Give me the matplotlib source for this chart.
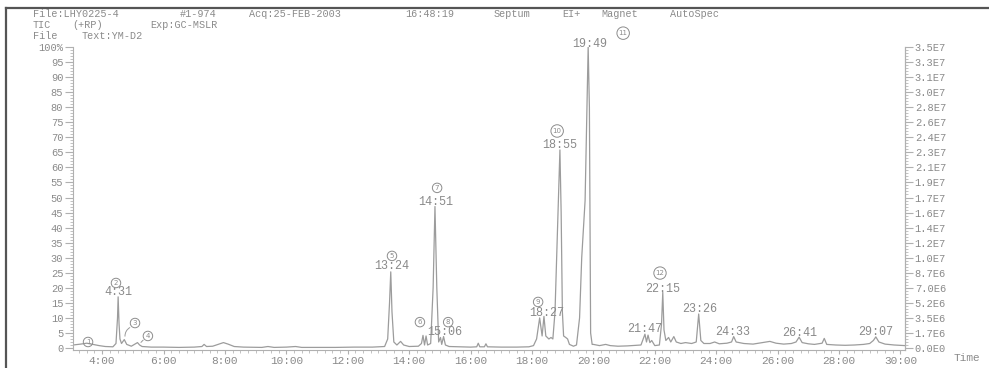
import re
import matplotlib
matplotlib.use('Agg')
import matplotlib.pyplot as plt
from matplotlib.lines import Line2D
from matplotlib.ticker import MultipleLocator, FixedLocator

# TIC trace, time in minutes, intensity in % of base peak
time = [3.05, 3.3, 3.5, 3.7, 3.9, 4.1, 4.35, 4.45, 4.50, 4.52, 4.55, 4.58, 4.63,
        4.72, 4.80, 4.95, 5.15, 5.22, 5.30, 5.6, 6.0, 6.5, 7.0, 7.25, 7.32, 7.40,
        7.6, 7.8, 7.95, 8.1, 8.3, 8.6, 9.2, 9.4, 9.6, 10.0, 10.3, 10.5, 11.0, 11.6,
        12.2, 12.8, 13.2, 13.3, 13.36, 13.40, 13.44, 13.5, 13.6, 13.72, 13.82, 14.0,
        14.3, 14.4, 14.45, 14.5, 14.55, 14.6, 14.7, 14.78, 14.84, 14.90, 14.96,
        15.02, 15.06, 15.12, 15.18, 15.3, 15.6, 16.0, 16.2, 16.25, 16.3, 16.45,
        16.5, 16.55, 17.0, 17.5, 17.9, 18.05, 18.15, 18.25, 18.33, 18.39, 18.45,
        18.55, 18.62, 18.68, 18.75, 18.85, 18.91, 18.95, 18.99, 19.03, 19.10,
        19.16, 19.22, 19.35, 19.45, 19.55, 19.62, 19.73, 19.80, 19.83, 19.87,
        19.89, 19.91, 19.96, 20.0, 20.2, 20.4, 20.55, 20.8, 21.1, 21.4, 21.55,
        21.68, 21.73, 21.78, 21.84, 21.9, 22.0, 22.15, 22.22, 22.26, 22.30, 22.36,
        22.45, 22.52, 22.62, 22.7, 22.85, 23.0, 23.2, 23.35, 23.43, 23.50, 23.6,
        23.8, 23.95, 24.1, 24.35, 24.5, 24.57, 24.65, 24.9, 25.2, 25.5, 25.75,
        25.95, 26.2, 26.45, 26.6, 26.7, 26.8, 27.0, 27.2, 27.45, 27.52, 27.6,
        27.9, 28.2, 28.5, 28.8, 29.0, 29.12, 29.2, 29.3, 29.5, 29.8, 30.15]
intensity = [1.0, 1.3, 1.6, 1.2, 0.8, 0.5, 0.4, 1.5, 10, 17.0, 8, 3.0, 1.5,
             2.8, 1.2, 0.6, 1.8, 1.0, 0.5, 0.3, 0.3, 0.2, 0.3, 0.5, 1.2, 0.5,
             0.6, 1.3, 1.8, 1.3, 0.5, 0.3, 0.2, 0.5, 0.2, 0.3, 0.5, 0.2, 0.2, 0.2,
             0.3, 0.3, 0.5, 3, 15, 25.3, 12, 2, 1.0, 2.2, 1.0, 0.5,
             0.6, 1.5, 4.2, 1.0, 4.0, 1.0, 1.5, 20, 47, 20, 2,
             3.5, 1.2, 3.8, 1.0, 0.5, 0.4, 0.3, 0.4, 1.6, 0.4, 0.4,
             1.4, 0.4, 0.3, 0.3, 0.4, 0.8, 3, 10, 4, 10.5, 4,
             3.0, 3.5, 3.0, 12, 45, 65.8, 45, 12, 4, 3.5,
             3.0, 1.2, 0.6, 1.0, 10, 30, 49, 85, 100, 80,
             40, 5, 1.2, 1.2, 0.8, 1.2, 0.8, 0.6, 0.7, 0.9, 1.0,
             4.6, 2.0, 4.3, 1.8, 2.5, 0.8, 1.0, 8, 18.5, 6, 2.5,
             3.5, 2.0, 3.8, 2.0, 1.5, 1.8, 1.5, 2.0, 11.3, 2.5, 1.5,
             1.5, 2.0, 1.4, 1.6, 2.0, 3.8, 2.0, 1.5, 1.3, 1.8, 2.2,
             1.6, 1.3, 1.5, 2.0, 3.6, 1.8, 1.4, 1.2, 1.6, 3.2, 1.2,
             1.0, 0.9, 1.0, 1.2, 1.5, 2.5, 3.7, 2.0, 1.3, 1.0, 0.8]

# retention time labels printed over peaks (text, time, % height of label)
peak_labels = ['4:31', '13:24', '14:51', '15:06', '18:27', '18:55', '19:49',
               '21:47', '22:15', '23:26', '24:33', '26:41', '29:07']
peak_label_t = [4.52, 13.44, 14.87, 15.17, 18.49, 18.91, 19.89,
                21.68, 22.27, 23.47, 24.55, 26.73, 29.21]
peak_label_y = [18.6, 27.2, 48.5, 5.3, 11.6, 67.4, 101.0,
                6.3, 19.6, 13.0, 5.3, 5.0, 5.3]

# hand written circled peak numbers
marks = ['1', '2', '3', '4', '5', '6', '7', '8', '9', '10', '11', '12']
mark_t = [3.54, 4.45, 5.07, 5.49, 13.44, 14.35, 14.91, 15.27, 18.2, 18.82, 20.97, 22.17]
mark_y = [2.0, 21.6, 8.3, 4.0, 30.6, 8.6, 53.2, 8.6, 15.3, 72.1, 104.6, 24.9]

x_ticks = [4, 6, 8, 10, 12, 14, 16, 18, 20, 22, 24, 26, 28, 30]
x_tick_labels = ['4:00', '6:00', '8:00', '10:00', '12:00', '14:00', '16:00',
                 '18:00', '20:00', '22:00', '24:00', '26:00', '28:00', '30:00']
pct_ticks = list(range(0, 101, 5))
pct_labels = ['0', '5', '10', '15', '20', '25', '30', '35', '40', '45', '50',
              '55', '60', '65', '70', '75', '80', '85', '90', '95', '100%']
full_scale = 3.5e7
abs_labels = ['0.0E0', '1.7E6', '3.5E6', '5.2E6', '7.0E6', '8.7E6', '1.0E7',
              '1.2E7', '1.4E7', '1.6E7', '1.7E7', '1.9E7', '2.1E7', '2.3E7',
              '2.4E7', '2.6E7', '2.8E7', '3.0E7', '3.1E7', '3.3E7', '3.5E7']

header = ['File:LHY0225-4 #1-974 Acq:25-FEB-2003 16:48:19 Septum EI+ Magnet AutoSpec',
          'TIC (+RP)   Exp:GC-MSLR',
          'File Text:YM-D2']

mono = 'Liberation Mono'
txt = '#8a8a8a'
ink = '#9c9c9c'

W, H = 989, 368
fig = plt.figure(figsize=(W / 100, H / 100), dpi=100)
ax = fig.add_axes([73 / W, (H - 350) / H, (905 - 73) / W, (350 - 47) / H])

ax.plot(time, intensity, color=ink, lw=0.9)
ax.set_xlim(3.05, 30.15)
ax.set_ylim(-0.66, 100)

ax.set_xticks(x_ticks, x_tick_labels)
ax.xaxis.set_minor_locator(MultipleLocator(0.25))
ax.set_yticks(pct_ticks, pct_labels)
ax.yaxis.set_minor_locator(MultipleLocator(1))

ax.spines['top'].set_visible(False)
for s in ['left', 'right', 'bottom']:
    ax.spines[s].set_color('#b0b0b0')
    ax.spines[s].set_linewidth(0.8)

ax.tick_params(axis='x', which='major', length=3, pad=1, labelsize=8,
               colors='#b0b0b0', labelcolor=txt)
ax.tick_params(axis='x', which='minor', length=2, colors='#b8b8b8')
ax.tick_params(axis='y', which='major', length=6, pad=1, labelsize=7.5,
               colors='#b0b0b0', labelcolor=txt)
ax.tick_params(axis='y', which='minor', length=2.5, colors='#b8b8b8')
for lab in ax.get_xticklabels() + ax.get_yticklabels():
    lab.set_family(mono)

ax2 = ax.twinx()
ax2.set_ylim(-0.66 / 100 * full_scale, full_scale)
ax2.yaxis.set_major_locator(FixedLocator([full_scale * k / 20 for k in range(21)]))
ax2.set_yticklabels(abs_labels)
ax2.yaxis.set_minor_locator(MultipleLocator(full_scale / 100))
ax2.tick_params(axis='y', which='major', length=6, pad=1, labelsize=7.5,
                colors='#b0b0b0', labelcolor=txt)
ax2.tick_params(axis='y', which='minor', length=2.5, colors='#b8b8b8')
for lab in ax2.get_yticklabels():
    lab.set_family(mono)
for s in ['top', 'left', 'bottom']:
    ax2.spines[s].set_visible(False)
ax2.spines['right'].set_color('#b0b0b0')
ax2.spines['right'].set_linewidth(0.8)

for lab, t, y in zip(peak_labels, peak_label_t, peak_label_y):
    ax.text(t, y, lab, ha='center', va='center', family=mono, fontsize=8.5,
            color=txt, clip_on=False)

for m, t, y in zip(marks, mark_t, mark_y):
    ax.text(t, y, m, ha='center', va='center', fontsize=5, color='#8c8c8c',
            clip_on=False,
            bbox=dict(boxstyle='circle,pad=0.25', fc='none', ec='#8c8c8c', lw=0.7))

# pen strokes from marks 3 and 4 down to their small peaks
ax.annotate('', xy=(4.75, 3.0), xytext=(4.98, 7.2),
            arrowprops=dict(arrowstyle='-', color='#9a9a9a', lw=0.7,
                            connectionstyle='arc3,rad=0.4'))
ax.annotate('', xy=(5.2, 1.2), xytext=(5.4, 3.3),
            arrowprops=dict(arrowstyle='-', color='#9a9a9a', lw=0.7))

fig.text(967 / W, 1 - 358 / H, 'Time', ha='center', va='center',
         family=mono, fontsize=8, color=txt)

# header printed in a wide typewriter pitch: place each word at its column
pitch = 9.8
for i, line in enumerate(header):
    for m in re.finditer(r'\S+', line):
        fig.text((33 + m.start() * pitch) / W, 1 - (14 + 11 * i) / H, m.group(),
                 ha='left', va='center', family=mono, fontsize=7.3, color=txt)

# scanned page border
fig.add_artist(Line2D([6 / W, 1], [1 - 8 / H, 1 - 8 / H], transform=fig.transFigure,
                      color='#555555', lw=1.6))
fig.add_artist(Line2D([6 / W, 6 / W], [0, 1 - 8 / H], transform=fig.transFigure,
                      color='#555555', lw=1.6))

fig.savefig('out.png', dpi=100)
